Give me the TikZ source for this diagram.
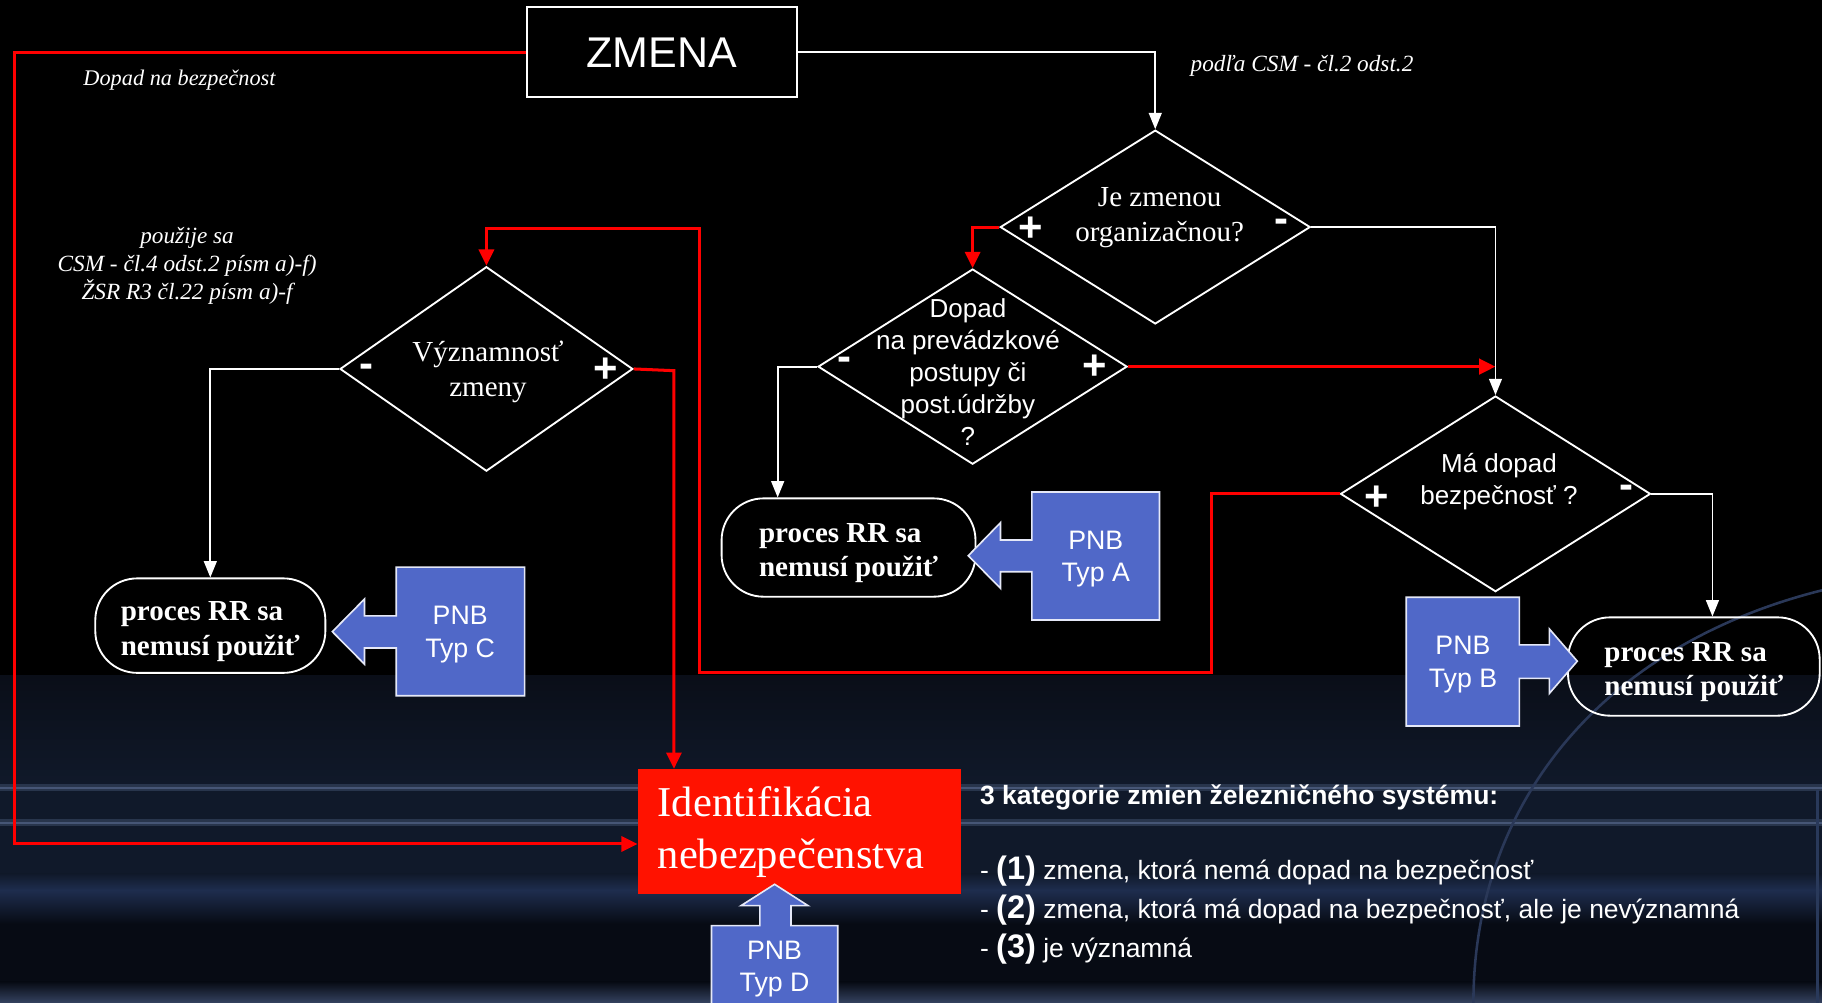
\documentclass[tikz,border=0pt]{standalone}
\usepackage{fontspec}
\setmainfont{Liberation Serif}
\setsansfont{Liberation Sans}
\usetikzlibrary{shapes.geometric,arrows.meta,calc}
\definecolor{pnbblue}{RGB}{80,104,200}
\definecolor{idred}{RGB}{255,18,0}
\definecolor{navyA}{RGB}{10,14,24}
\definecolor{navyB}{RGB}{16,25,42}
\definecolor{navyBand}{RGB}{30,45,78}
\definecolor{navyDark}{RGB}{7,11,20}
\definecolor{streak}{RGB}{70,86,118}
\definecolor{arccol}{RGB}{52,70,110}
\begin{document}
\begin{tikzpicture}[x=0.5pt,y=-0.5pt,
  wline/.style={draw=white,line width=0.8pt},
  warrow/.style={wline,-{Triangle[length=7pt,width=5.5pt]}},
  rline/.style={draw=red,line width=1.3pt},
  rarrow/.style={rline,-{Triangle[length=7pt,width=6.5pt]}},
  dia/.style={draw=white,line width=0.8pt,diamond,inner sep=0pt},
  dtxtserif/.style={text=white,align=center,font=\fontsize{12.5}{15}\selectfont},
  dtxtsans/.style={text=white,align=center,font=\sffamily\fontsize{11.2}{13.75}\selectfont},
  plus/.style={text=white,inner sep=0pt,font=\sffamily\bfseries\fontsize{18}{18}\selectfont},
  stad/.style={draw=white,line width=0.8pt,rounded corners=18pt,text=white,align=left,
    font=\bfseries\fontsize{12.5}{15}\selectfont,inner sep=0pt},
  pnb/.style={fill=pnbblue,draw=white!85!pnbblue,line width=0.7pt},
  pnbtxt/.style={text=white,align=center,font=\sffamily\fontsize{11.5}{14}\selectfont},
  note/.style={text=white,align=center,font=\itshape\fontsize{10}{12}\selectfont},
  catxt/.style={text=white,anchor=west,inner sep=0pt,font=\sffamily\fontsize{11.4}{13}\selectfont}
]
\useasboundingbox (0,0) rectangle (1568,863);
% ---------- background ----------
\fill[black] (0,0) rectangle (1568,863);
\shade[top color=navyA,bottom color=navyB] (0,581) rectangle (1568,675);
\fill[navyB] (0,675) rectangle (1568,752);
\shade[top color=navyB,bottom color=navyBand] (0,752) rectangle (1568,766);
\shade[top color=navyBand,bottom color=navyDark] (0,766) rectangle (1568,795);
\fill[navyDark] (0,795) rectangle (1568,845);
\shade[top color=navyDark,bottom color=navyBand!90!white] (0,845) rectangle (1568,863);
\draw[streak!45!navyB,line width=3pt] (0,678) -- (1568,678);
\draw[streak,line width=0.9pt] (0,678) -- (1568,678);
\draw[streak!45!navyB,line width=3pt] (0,708) -- (1568,708);
\draw[streak,line width=0.9pt] (0,708) -- (1568,708);
\draw[arccol!80!black,line width=1.1pt] (1568,508) .. controls (1380,555) and (1268,690) .. (1268,863);
\draw[arccol!70!navyB,line width=1pt] (1564,680) -- (1564,863);
% ---------- nodes ----------
\node[draw=white,line width=0.9pt,fill=black,minimum width=116.1pt,minimum height=38.75pt,
  text=white,font=\sffamily\fontsize{18.5}{20}\selectfont] (zmena) at (569.4,45) {ZMENA};
\node[dia,minimum width=133.4pt,minimum height=83.4pt] (d1) at (994.2,195.4) {};
\node[dia,minimum width=133pt,minimum height=84pt] (d2) at (837,315.5) {};
\node[dia,minimum width=133.4pt,minimum height=84.2pt] (d3) at (1287,425) {};
\node[dia,minimum width=126pt,minimum height=88pt] (d4) at (418.6,317.5) {};
\node[dtxtserif] (t1) at (998,187) {Je zmenou\\organizačnou?};
\node[dtxtsans] (t2) at (833,320) {Dopad\\na prevádzkové\\postupy či\\post.údržby\\?};
\node[dtxtsans,font=\sffamily\fontsize{11.2}{13.5}\selectfont] (t3) at (1290,414.5) {Má dopad\\bezpečnosť ?};
\node[dtxtserif] (t4) at (420,320) {Významnosť\\zmeny};
\node[plus] (p1) at (887,197) {+};
\node[plus] (m1) at (1103,194) {-};
\node[plus] (m2) at (727,313) {-};
\node[plus] (p2) at (942,316) {+};
\node[plus] (p3) at (1185,429) {+};
\node[plus] (m3) at (1400,423) {-};
\node[plus] (m4) at (315,319) {-};
\node[plus] (p4) at (521,319) {+};
\node[stad,minimum width=99pt,minimum height=40.65pt] (rrC) at (181,538.4) {\rule{0pt}{13pt}proces RR sa\\nemusí použiť};
\node[stad,minimum width=109.25pt,minimum height=42.3pt] (rrA) at (730.25,471.2) {\rule{0pt}{13pt}proces RR sa\\nemusí použiť};
\node[stad,minimum width=108.3pt,minimum height=42.3pt] (rrB) at (1457.7,573.6) {\rule{0pt}{13pt}proces RR sa\\nemusí použiť};
\node[fill=idred,minimum width=138.9pt,minimum height=53.8pt,text width=122pt,inner xsep=8.5pt,
  align=left,text=white,font=\fontsize{18.3}{22.5}\selectfont] (ident) at (688.1,715.8)
  {Identifikácia\\nebezpečenstva};
% ---------- PNB callouts ----------
\path[pnb] (451.5,488) -- (341,488) -- (341,530) -- (313.7,530) -- (313.7,515.5) -- (286,543.6)
  -- (313.7,571.6) -- (313.7,557.7) -- (341,557.7) -- (341,598.7) -- (451.5,598.7) -- cycle;
\node[pnbtxt] (pnbC) at (396,546) {PNB\\Typ C};
\path[pnb] (997.8,423.4) -- (888,423.4) -- (888,464.7) -- (861,464.7) -- (861,449.8) -- (833.3,478.2)
  -- (861,506.3) -- (861,492) -- (888,492) -- (888,533.6) -- (997.8,533.6) -- cycle;
\node[pnbtxt] (pnbA) at (943,481) {PNB\\Typ A};
\path[pnb] (1210.2,514) -- (1307.5,514) -- (1307.5,555) -- (1333.4,555) -- (1333.4,541.3) -- (1357.4,569)
  -- (1333.4,596.7) -- (1333.4,583.8) -- (1307.5,583.8) -- (1307.5,624.8) -- (1210.2,624.8) -- cycle;
\node[pnbtxt] (pnbB) at (1259,572) {PNB\\Typ B};
\path[pnb] (612.3,870) -- (612.3,796.6) -- (653.9,796.6) -- (653.9,779.4) -- (637.7,779.4) -- (666.6,761)
  -- (695.4,779.4) -- (680.7,779.4) -- (680.7,796.6) -- (721,796.6) -- (721,870) -- cycle;
\node[pnbtxt] (pnbD) at (666.6,834) {PNB\\Typ D};
% ---------- labels ----------
\node[note,font=\itshape\fontsize{9.6}{12}\selectfont] (lab1) at (154.5,69) {Dopad na bezpečnost};
\node[note] (lab2) at (1120.5,57) {podľa CSM - čl.2 odst.2};
\node[note] (lab3) at (161,229) {použije sa\\CSM - čl.4 odst.2 písm a)-f)\\ŽSR R3 čl.22 písm a)-f};
\node[catxt,font=\sffamily\bfseries\fontsize{11.4}{13}\selectfont] (cat0) at (843,686)
  {3 kategorie zmien železničného systému:};
\node[catxt] (cat1) at (843,750) {- {\bfseries\fontsize{14}{14}\selectfont(1)} zmena, ktorá nemá dopad na bezpečnosť};
\node[catxt] (cat2) at (843,783) {- {\bfseries\fontsize{14}{14}\selectfont(2)} zmena, ktorá má dopad na bezpečnosť, ale je nevýznamná};
\node[catxt] (cat3) at (843,817) {- {\bfseries\fontsize{14}{14}\selectfont(3)} je významná};
% ---------- connectors ----------
\coordinate (lc) at (12.5,726.3);
\draw[rarrow] (zmena.west) -| (lc) -- (lc -| ident.west);
\draw[warrow] (zmena.east) -| (d1.north);
\draw[rarrow] (d1.west) -| (d2.north);
\draw[warrow] (d1.east) -| (d3.north);
\draw[rarrow,line width=1.6pt] (d2.east) -- (d2.east -| d3.north);
\draw[warrow] (d2.west) -| ([xshift=-30.5pt]rrA.north);
\draw[warrow] (d3.east) -| ([xshift=8pt]rrB.north);
\coordinate (c1) at (1042.7,578.9);
\coordinate (c2) at (602.3,196.8);
\draw[rarrow] (d3.west) -| (c1) -| (c2) -| (d4.north);
\draw[warrow] (d4.west) -| (rrC.north);
\coordinate (r4) at (580,319);
\draw[rarrow] (d4.east) -- (r4) -- (r4 |- ident.north);
\end{tikzpicture}
\end{document}
